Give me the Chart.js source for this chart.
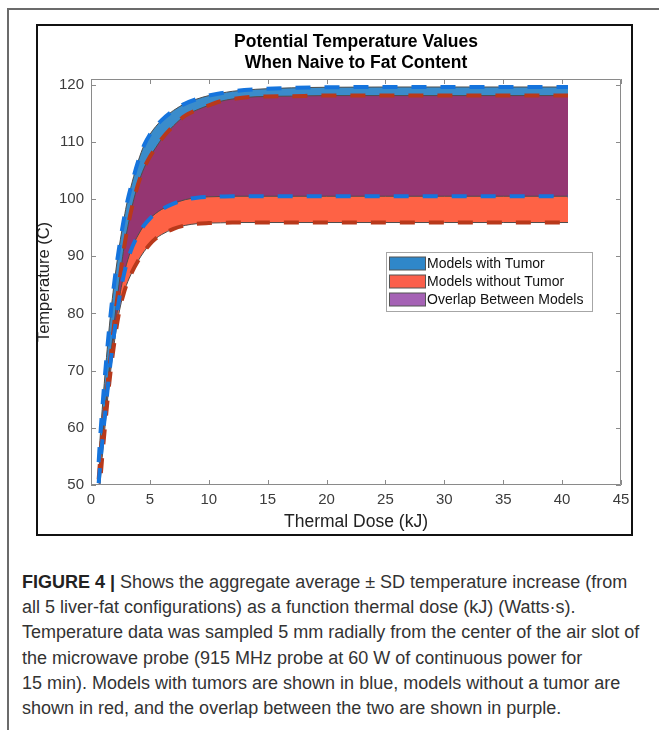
<!DOCTYPE html>
<html>
<head>
<meta charset="utf-8">
<script src="https://cdn.jsdelivr.net/npm/chart.js@4.4.1/dist/chart.umd.min.js"></script>
<style>
  body { margin: 0; background: #fff; width: 659px; height: 730px; position: relative; overflow: hidden; }
  .frame-top { position: absolute; left: 7px; top: 8px; width: 652px; height: 2px; background: #6b6b6b; }
  .frame-left { position: absolute; left: 7px; top: 8px; width: 2px; height: 722px; background: #6b6b6b; }
  .box { position: absolute; left: 36px; top: 24px; width: 597px; height: 512px; border: 2px solid #111; box-sizing: border-box; overflow: hidden; }
  .box canvas { position: absolute; left: 0; top: 0; }
  .caption { position: absolute; left: 22px; top: 570px; width: 636px; font-family: "Liberation Sans", Arial, Helvetica, sans-serif;
             font-size: 18px; line-height: 25.2px; color: #333; white-space: nowrap; }
  .caption b { color: #222; }
</style>
</head>
<body>
<div class="frame-top"></div>
<div class="frame-left"></div>
<div class="box"><div style="position:absolute;left:0;top:0;width:593px;height:508px"><canvas id="grafico"></canvas></div></div>
<div class="caption">
  <b>FIGURE 4 |</b> Shows the aggregate average ± SD temperature increase (from<br>
  all 5 liver-fat configurations) as a function thermal dose (kJ) (Watts·s).<br>
  Temperature data was sampled 5 mm radially from the center of the air slot of<br>
  the microwave probe (915 MHz probe at 60 W of continuous power for<br>
  15 min). Models with tumors are shown in blue, models without a tumor are<br>
  shown in red, and the overlap between the two are shown in purple.
</div>
<script>
// valori (dose termica in kJ, temperatura in C)
var dose_kj = [0.65, 0.8, 1.0, 1.25, 1.5, 1.75, 2.0, 2.25, 2.5, 2.75, 3.0, 3.5, 4.0, 4.5, 5.0, 5.5, 6.0, 7.0, 8.0, 9.0, 10, 11, 12, 14, 17, 20, 25, 30, 35, 40.5];
// modelli con tumore: media + SD / media - SD
var tumore_alto = [54.0, 59.0, 64.5, 70.8, 76.5, 81.5, 85.8, 89.6, 93.0, 96.0, 98.8, 103.0, 106.6, 109.4, 111.3, 112.7, 113.8, 115.5, 116.7, 117.5, 118.1, 118.5, 118.85, 119.2, 119.45, 119.55, 119.6, 119.6, 119.6, 119.6];
var tumore_basso = [50.3, 54.0, 58.5, 63.5, 68.5, 73.0, 77.0, 80.6, 83.8, 86.4, 88.5, 91.6, 93.7, 95.4, 96.6, 97.5, 98.2, 99.2, 99.9, 100.25, 100.4, 100.45, 100.5, 100.5, 100.5, 100.5, 100.5, 100.5, 100.5, 100.5];
// modelli senza tumore
var sano_alto = [51.0, 55.0, 59.5, 64.5, 69.5, 74.0, 78.8, 83.0, 87.0, 90.8, 93.8, 98.8, 102.6, 105.4, 107.4, 109.0, 110.5, 112.8, 114.6, 115.6, 116.4, 117.1, 117.5, 117.9, 118.0, 118.1, 118.1, 118.1, 118.1, 118.1];
var sano_basso = [47.0, 51.0, 56.0, 61.5, 66.8, 71.3, 75.2, 78.6, 81.3, 83.3, 84.9, 87.3, 89.2, 90.8, 92.1, 93.1, 93.8, 94.8, 95.4, 95.7, 95.8, 95.85, 95.9, 95.9, 95.9, 95.9, 95.9, 95.9, 95.9, 95.9];

var serie = ['Models with Tumor', 'Models without Tumor', 'Overlap Between Models'];
var tick_x = [0, 5, 10, 15, 20, 25, 30, 35, 40, 45];
var tick_y = [50, 60, 70, 80, 90, 100, 110, 120];

// la sovrapposizione e' la fascia comune alle due bande
var sovrap_alto = tumore_alto.map(function(v, i){ return Math.min(v, sano_alto[i]); });
var sovrap_basso = tumore_basso.map(function(v, i){ return Math.max(v, sano_basso[i]); });

var colori_legenda = ['#2f87c9', '#fb5f4b', '#a562b5'];
var font_base = '"Liberation Sans", Arial, Helvetica, sans-serif';

function punti(valori){
  return valori.map(function(v, i){ return {x: dose_kj[i], y: v}; });
}

function banda(etichetta, valori, riempi, colore, ordine){
  return {
    label: etichetta, data: punti(valori), fill: riempi, backgroundColor: colore,
    borderColor: '#4d4d4d', borderWidth: 1,
    pointRadius: 0, cubicInterpolationMode: 'monotone', order: ordine, clip: 0
  };
}

function tratteggio(valori, colore, ordine){
  return {
    label: '', data: punti(valori), fill: false, borderColor: colore, borderWidth: 4,
    borderDash: [15, 14], pointRadius: 0, cubicInterpolationMode: 'monotone', order: ordine, clip: 0
  };
}

var bordi = banda('', sovrap_alto, 5, '#953672', 10);
bordi.borderWidth = 0;
var bordi2 = banda('', sovrap_basso, false, null, 10);
bordi2.borderWidth = 0;

// tacche verso l'interno e cornice degli assi, come in matlab
var cornice = {
  id: 'cornice',
  afterDatasetsDraw: function(chart){
    var ctx = chart.ctx, a = chart.chartArea, sx = chart.scales.x, sy = chart.scales.y;
    ctx.save();
    ctx.strokeStyle = '#8a8a8a';
    ctx.lineWidth = 1;
    ctx.beginPath();
    ctx.rect(a.left + 0.5, a.top + 0.5, a.right - a.left - 1, a.bottom - a.top - 1);
    tick_x.forEach(function(v){
      var p = Math.round(sx.getPixelForValue(v)) + 0.5;
      ctx.moveTo(p, a.bottom); ctx.lineTo(p, a.bottom - 5);
      ctx.moveTo(p, a.top); ctx.lineTo(p, a.top + 5);
    });
    tick_y.forEach(function(v){
      var p = Math.round(sy.getPixelForValue(v)) + 0.5;
      ctx.moveTo(a.left, p); ctx.lineTo(a.left + 5, p);
      ctx.moveTo(a.right, p); ctx.lineTo(a.right - 5, p);
    });
    ctx.stroke();
    ctx.restore();
  }
};

// legenda col riquadro dentro l'area del grafico
var legenda = {
  id: 'legenda',
  afterDraw: function(chart){
    var ctx = chart.ctx, a = chart.chartArea;
    var sx = a.left + 295, sy = a.top + 173, w = 206, h = 59;
    ctx.save();
    ctx.fillStyle = '#fff';
    ctx.fillRect(sx, sy, w, h);
    ctx.strokeStyle = '#a6a6a6';
    ctx.lineWidth = 1;
    ctx.strokeRect(sx + 0.5, sy + 0.5, w, h);
    ctx.font = '14px ' + font_base;
    ctx.textBaseline = 'middle';
    for (var i = 0; i < serie.length; i++) {
      var cy = sy + 11.5 + i * 18;
      ctx.fillStyle = colori_legenda[i];
      ctx.fillRect(sx + 3.5, cy - 6.5, 36, 13);
      ctx.strokeStyle = '#555';
      ctx.strokeRect(sx + 3.5, cy - 6.5, 36, 13);
      ctx.fillStyle = '#111';
      ctx.fillText(serie[i], sx + 41, cy + 1);
    }
    ctx.restore();
  }
};

var ctx = document.getElementById('grafico').getContext('2d');
var chart = new Chart(ctx, {
  type: 'line',
  data: {
    datasets: [
      banda(serie[0], tumore_alto, 1, '#3a8ccb', 30),
      banda('', tumore_basso, false, null, 30),
      banda(serie[1], sano_alto, 3, '#fe6245', 20),
      banda('', sano_basso, false, null, 20),
      bordi,
      bordi2,
      tratteggio(tumore_alto, '#1574dd', 0),
      tratteggio(tumore_basso, '#1574dd', 0),
      tratteggio(sano_alto, '#b8391b', 1),
      tratteggio(sano_basso, '#b8391b', 1)
    ]
  },
  options: {
    responsive: true,
    maintainAspectRatio: false,
    animation: false,
    layout: { padding: { left: 0, right: 10, top: 0, bottom: 0 } },
    plugins: {
      legend: { display: false },
      tooltip: { enabled: false },
      filler: { drawTime: 'beforeDatasetsDraw' },
      title: {
        display: true,
        fullSize: false,
        text: ['Potential Temperature Values', 'When Naive to Fat Content'],
        color: '#000',
        font: { family: font_base, size: 17.5, weight: 'bold', lineHeight: '21px' },
        padding: { top: 6, bottom: 5 }
      }
    },
    scales: {
      x: {
        type: 'linear', min: 0, max: 45,
        grid: { display: false, drawTicks: false, tickLength: 0 },
        border: { display: false },
        afterBuildTicks: function(s){ s.ticks = tick_x.map(function(v){ return {value: v}; }); },
        afterFit: function(s){ s.height = 49; s.paddingLeft = 0; s.paddingRight = 0; },
        ticks: { color: '#3c3c3c', font: { family: font_base, size: 15 }, padding: 6, maxRotation: 0, autoSkip: false },
        title: { display: true, text: 'Thermal Dose (kJ)', color: '#222', font: { family: font_base, size: 17.5 }, padding: { top: 0, bottom: 1 } }
      },
      y: {
        type: 'linear', min: 50, max: 121,
        grid: { display: false, drawTicks: false, tickLength: 0 },
        border: { display: false },
        afterBuildTicks: function(s){ s.ticks = tick_y.map(function(v){ return {value: v}; }); },
        afterFit: function(s){ s.width = 53; s.paddingTop = 0; s.paddingBottom = 0; },
        ticks: { color: '#3c3c3c', font: { family: font_base, size: 15 }, padding: 7, autoSkip: false },
        title: { display: true, text: 'Temperature (C)', color: '#222', font: { family: font_base, size: 16.5, lineHeight: 0.75 }, padding: { top: 0, bottom: 0 } }
      }
    }
  },
  plugins: [cornice, legenda]
});
</script>
</body>
</html>
